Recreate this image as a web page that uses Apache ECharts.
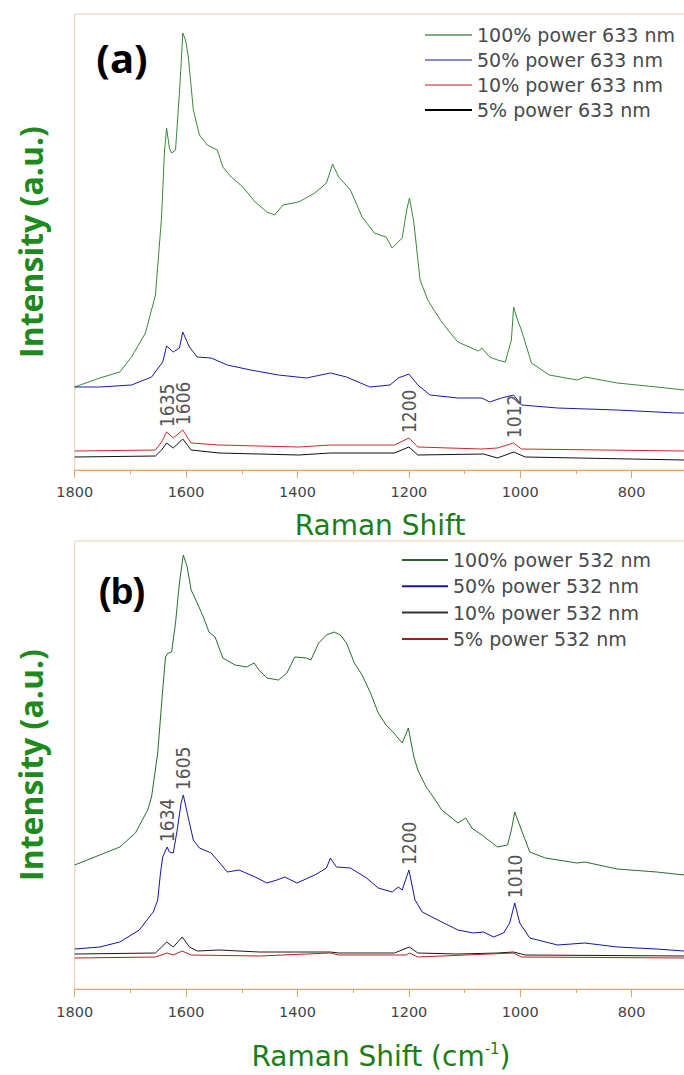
<!DOCTYPE html>
<html>
<head>
<meta charset="utf-8">
<script src="https://cdn.jsdelivr.net/npm/echarts@6/dist/echarts.min.js"></script>
<style>
html,body{margin:0;padding:0;background:#fff;}
#chart{width:684px;height:1075px;}
</style>
</head>
<body>
<div id="chart"></div>
<script>
// ---------- data (Raman shift in cm-1, intensity in a.u.) ----------
const namesA = ['100% power 633 nm', '50% power 633 nm', '10% power 633 nm', '5% power 633 nm'];
const namesB = ['100% power 532 nm', '50% power 532 nm', '10% power 532 nm', '5% power 532 nm'];
const xTicks = [1800, 1600, 1400, 1200, 1000, 800];
const peaksA = [1635, 1606, 1200, 1012];
const peaksB = [1634, 1605, 1200, 1010];

const g633 = [[1800,83],[1755,92],[1719,98],[1698,113],[1673,137],[1655,175],[1644,253],[1639,317],[1635,342],[1630,322],[1626,317],[1619,320],[1612,377],[1609,405],[1606,437],[1601,430],[1596,413],[1587,360],[1576,335],[1562,325],[1544,320],[1534,303],[1519,293],[1498,283],[1476,268],[1455,258],[1441,255],[1426,265],[1398,268],[1369,277],[1348,287],[1337,306],[1326,293],[1305,280],[1284,253],[1262,237],[1241,233],[1230,222],[1212,232],[1204,260],[1199,272],[1191,247],[1180,190],[1166,170],[1155,160],[1141,148],[1127,138],[1112,128],[1075,119],[1069,122],[1055,113],[1041,110],[1027,108],[1016,130],[1012,163],[1005,150],[998,140],[980,107],[948,95],[898,90],[884,93],[826,87],[755,83],[706,80]];
const b633 = [[1800,83],[1755,83],[1698,85],[1662,93],[1642,108],[1635,124],[1623,118],[1612,122],[1606,138],[1594,123],[1580,113],[1555,112],[1526,105],[1484,100],[1434,95],[1384,92],[1341,97],[1312,93],[1270,83],[1234,85],[1219,92],[1200,96],[1184,85],[1162,75],[1112,72],[1069,72],[1055,68],[1034,72],[1012,75],[998,65],[933,62],[826,60],[719,57],[706,57]];
const r633 = [[1800,19],[1655,20],[1644,28],[1635,38],[1623,32],[1606,40],[1591,27],[1541,25],[1398,23],[1341,25],[1226,25],[1200,32],[1184,23],[1069,21],[1041,22],[1012,27],[998,21],[706,19]];
const k633 = [[1800,13],[1655,14],[1644,20],[1635,27],[1623,22],[1606,31],[1591,20],[1541,17],[1398,15],[1341,17],[1226,17],[1200,23],[1184,15],[1066,16],[1041,12],[1012,18],[991,13],[706,10]];

const g532 = [[1800,124],[1755,134],[1719,142],[1691,156],[1669,179],[1662,192],[1651,236],[1642,299],[1637,332],[1632,336],[1626,337],[1619,366],[1612,406],[1605,434],[1598,422],[1591,399],[1580,386],[1569,372],[1559,357],[1548,352],[1534,331],[1512,324],[1491,322],[1478,326],[1469,319],[1455,311],[1434,309],[1419,316],[1405,332],[1384,331],[1376,329],[1362,346],[1348,354],[1334,357],[1323,354],[1312,346],[1298,326],[1284,314],[1269,296],[1255,276],[1241,264],[1227,256],[1212,246],[1201,261],[1191,232],[1184,219],[1169,202],[1155,191],[1141,179],[1112,166],[1098,171],[1087,161],[1069,154],[1041,142],[1023,144],[1016,159],[1010,177],[998,159],[983,137],[955,131],[898,126],[884,127],[826,120],[755,117],[706,114]];
const bl532 = [[1800,40],[1755,42],[1719,47],[1684,59],[1666,72],[1659,77],[1651,89],[1646,116],[1642,132],[1634,142],[1630,137],[1623,136],[1616,159],[1609,186],[1605,194],[1598,176],[1587,149],[1576,141],[1555,136],[1541,127],[1526,117],[1505,119],[1476,112],[1455,106],[1437,109],[1423,112],[1401,106],[1369,114],[1348,121],[1341,131],[1330,122],[1305,121],[1276,111],[1255,101],[1230,97],[1219,102],[1212,99],[1200,119],[1189,89],[1176,77],[1141,67],[1112,59],[1084,56],[1066,57],[1048,52],[1030,56],[1019,66],[1010,86],[1001,66],[983,51],[933,44],[884,46],[826,42],[755,40],[706,38]];
const k532 = [[1800,35],[1655,36],[1644,42],[1635,47],[1623,42],[1607,52],[1594,42],[1580,38],[1541,39],[1469,37],[1341,37],[1326,36],[1226,36],[1199,42],[1184,36],[1112,35],[1041,36],[1012,37],[991,34],[706,33]];
const r532 = [[1800,31],[1655,32],[1634,36],[1623,34],[1607,38],[1591,34],[1469,33],[1341,36],[1326,34],[1205,34],[1199,36],[1184,32],[1012,36],[998,32],[706,31]];

// ---------- helpers ----------
function valueAt(arr, w) {
  let best = arr[0];
  arr.forEach(p => { if (Math.abs(p[0] - w) < Math.abs(best[0] - w)) best = p; });
  return best[1];
}
const chart = echarts.init(document.getElementById('chart'), null, {renderer: 'svg'});

const axisOrange = '#e6a36a';
const borderTan = '#e8cfae';
const titleGreen = '#1a7d1a';
const tickFont = 'DejaVu Sans';
const annoFont = '"Liberation Sans Narrow", "DejaVu Sans Condensed", sans-serif';

function xAxisCfg(gi) {
  return {
    type: 'value', gridIndex: gi, min: 600, max: 1800, interval: 200, inverse: true,
    axisLine: {show: true, lineStyle: {color: axisOrange, width: 1}},
    axisTick: {show: true, length: 8, lineStyle: {color: axisOrange}},
    minorTick: {show: true, splitNumber: 2, length: 4, lineStyle: {color: axisOrange}},
    splitLine: {show: false}, minorSplitLine: {show: false},
    axisLabel: {
      margin: gi === 0 ? 14 : 15, color: '#444', fontFamily: tickFont, fontSize: 14.5,
      formatter: v => (xTicks.indexOf(v) >= 0 ? String(v) : '')
    }
  };
}
function yAxisCfg(gi, max) {
  return {
    type: 'value', gridIndex: gi, min: 0, max: max,
    axisLine: {show: false}, axisTick: {show: false}, axisLabel: {show: false}, splitLine: {show: false},
    name: 'Intensity (a.u.)', nameLocation: 'middle', nameRotate: 90, nameGap: 28,
    nameTextStyle: {color: '#1e8a1e', fontFamily: 'Open Sans', fontWeight: 'bold', fontSize: 32}
  };
}
function lineSeries(name, data, gi, color, extra) {
  return Object.assign({
    name: name, type: 'line', data: data, xAxisIndex: gi, yAxisIndex: gi,
    symbol: 'none', showSymbol: false, silent: true,
    lineStyle: {color: color, width: 1}, itemStyle: {color: color}
  }, extra || {});
}
function annotations(peaks, ref) {
  return {
    symbol: 'circle', symbolSize: 0, silent: true,
    label: {
      show: true, formatter: p => p.name, position: 'top', distance: 5, rotate: 90,
      align: 'left', verticalAlign: 'middle', color: '#555', fontFamily: annoFont, fontSize: 19
    },
    data: peaks.map(w => ({name: String(w), coord: [w, valueAt(ref, w)]}))
  };
}

const option = {
  backgroundColor: '#fff',
  animation: false,
  grid: [
    {left: 74.7, top: 14, width: 668.4, height: 456, show: true, borderColor: borderTan, borderWidth: 1, outerBoundsMode: 'none', containLabel: false},
    {left: 74.7, top: 541, width: 668.4, height: 448, show: true, borderColor: borderTan, borderWidth: 1, outerBoundsMode: 'none', containLabel: false}
  ],
  xAxis: [xAxisCfg(0), xAxisCfg(1)],
  yAxis: [yAxisCfg(0, 456), yAxisCfg(1, 448)],
  title: [
    {text: '(a)', left: 122, top: 57, padding: 0, textAlign: 'center', textVerticalAlign: 'middle',
     textStyle: {fontFamily: 'Open Sans', fontWeight: 'bold', fontSize: 40, color: '#000'}},
    {text: '(b)', left: 122, top: 591, padding: 0, textAlign: 'center', textVerticalAlign: 'middle',
     textStyle: {fontFamily: 'Liberation Sans', fontWeight: 'bold', fontSize: 37, color: '#000'}},
    {text: 'Raman Shift', left: 380, top: 525, padding: 0, textAlign: 'center', textVerticalAlign: 'middle',
     textStyle: {fontFamily: 'DejaVu Sans', fontWeight: 'normal', fontSize: 28, color: titleGreen}},
    {text: 'Raman Shift (cm{sup|-1})', left: 381, top: 1056, padding: 0, textAlign: 'center', textVerticalAlign: 'middle',
     textStyle: {fontFamily: 'DejaVu Sans', fontWeight: 'normal', fontSize: 28, color: titleGreen,
       rich: {sup: {fontFamily: 'DejaVu Sans', fontSize: 15, color: titleGreen, padding: [0, 0, 14, 0]}}}}
  ],
  legend: [
    {orient: 'vertical', left: 425, top: 25, padding: 0, itemWidth: 47, itemHeight: 2, itemGap: 5, icon: 'rect',
     textStyle: {fontFamily: 'DejaVu Sans', fontSize: 19, color: '#4a4a4a', lineHeight: 20},
     data: [
       {name: namesA[0], itemStyle: {color: '#7fae7f'}},
       {name: namesA[1], itemStyle: {color: '#8c8cd0'}},
       {name: namesA[2], itemStyle: {color: '#e08a8a'}},
       {name: namesA[3], itemStyle: {color: '#000'}}
     ]},
    {orient: 'vertical', left: 402, top: 550, padding: 0, itemWidth: 46, itemHeight: 2, itemGap: 6.3, icon: 'rect',
     textStyle: {fontFamily: 'DejaVu Sans', fontSize: 19, color: '#4a4a4a', lineHeight: 20},
     data: [
       {name: namesB[0], itemStyle: {color: '#2d5e2d'}},
       {name: namesB[1], itemStyle: {color: '#1a1a9a'}},
       {name: namesB[2], itemStyle: {color: '#333'}},
       {name: namesB[3], itemStyle: {color: '#9a2020'}}
     ]}
  ],
  series: [
    lineSeries(namesA[0], g633, 0, '#3a863a'),
    lineSeries(namesA[1], b633, 0, '#1a1aa8'),
    lineSeries(namesA[2], r633, 0, '#c82828', {markPoint: annotations(peaksA, r633)}),
    lineSeries(namesA[3], k633, 0, '#111'),
    lineSeries(namesB[0], g532, 1, '#2a6e2a'),
    lineSeries(namesB[1], bl532, 1, '#1515a0', {markPoint: annotations(peaksB, bl532)}),
    lineSeries(namesB[2], k532, 1, '#1a1a1a'),
    lineSeries(namesB[3], r532, 1, '#b52020')
  ]
};
chart.setOption(option);
</script>
</body>
</html>
